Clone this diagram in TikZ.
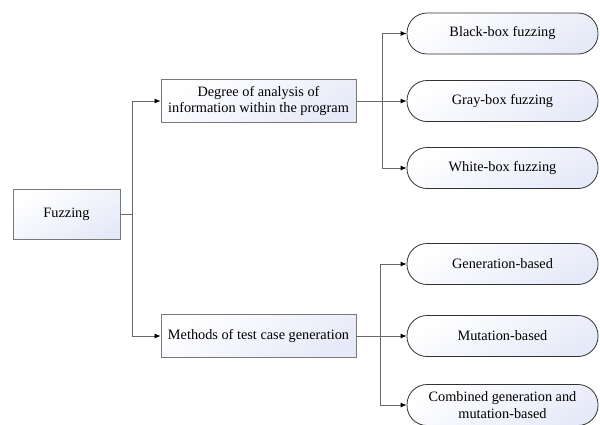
\documentclass[tikz,border=0pt]{standalone}
\usepackage{fontspec}
\setmainfont{Liberation Serif}
\usetikzlibrary{arrows.meta}
\definecolor{boxfillA}{RGB}{230,234,248}
\definecolor{linegray}{RGB}{105,105,105}
\definecolor{rectborder}{RGB}{120,120,120}
\definecolor{roundborder}{RGB}{50,50,50}
\begin{document}
\begin{tikzpicture}[x=1pt,y=-1pt,
  every node/.style={font=\fontsize{14.3}{16.7}\selectfont, align=center, inner sep=0pt},
  sqbox/.style={draw=rectborder, line width=0.8pt, top color=white, bottom color=boxfillA, shading angle=30},
  rbox/.style={draw=roundborder, line width=0.8pt, rounded corners=20pt, top color=white, bottom color=boxfillA, shading angle=30, minimum width=191pt, minimum height=41pt},
  conn/.style={draw=linegray, line width=0.8pt},
  arr/.style={conn, -{Latex[length=6pt,width=5pt,color=black]}}]
\useasboundingbox (0,0) rectangle (600,424);
% main nodes
\node[sqbox, minimum width=107pt, minimum height=50pt] (fz) at (66.5,214) {Fuzzing};
\node[sqbox, minimum width=195pt, minimum height=43pt] (deg) at (258.5,101) {Degree of analysis of\\information within the program};
\node[sqbox, minimum width=195pt, minimum height=43pt] (meth) at (258.5,336) {Methods of test case generation};
% leaves
\node[rbox] (bb) at (502.5,33.5) {Black-box fuzzing};
\node[rbox] (gb) at (502.5,101) {Gray-box fuzzing};
\node[rbox] (wb) at (502.5,168) {White-box fuzzing};
\node[rbox] (gen) at (502.5,264) {Generation-based};
\node[rbox] (mut) at (502.5,336) {Mutation-based};
\node[rbox] (comb) at (502.5,405) {Combined generation and\\mutation-based};
% junctions
\coordinate (t) at (132,214);
\coordinate (j1) at (382,101);
\coordinate (j2) at (380,336);
% connectors
\draw[conn] (fz.east) -- (t);
\draw[arr] (t) |- (deg.west);
\draw[arr] (t) |- (meth.west);
\draw[conn] (deg.east) -- (j1);
\draw[arr] (j1) |- (bb.west);
\draw[arr] (j1) -- (gb.west);
\draw[arr] (j1) |- (wb.west);
\draw[conn] (meth.east) -- (j2);
\draw[arr] (j2) |- (gen.west);
\draw[arr] (j2) -- (mut.west);
\draw[arr] (j2) |- (comb.west);
\end{tikzpicture}
\end{document}
